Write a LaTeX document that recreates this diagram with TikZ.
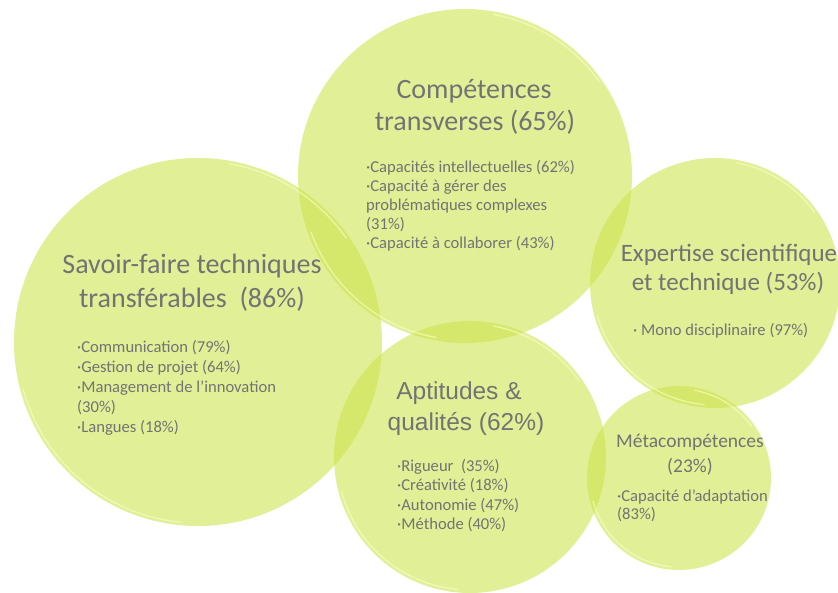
\documentclass[tikz,border=0pt]{standalone}
\usepackage{fontspec}
\usetikzlibrary{calc}
\setmainfont{Carlito}
\newfontfamily\arialfont{Liberation Sans}
\definecolor{bubblecol}{RGB}{205,228,80}
\definecolor{rimcol}{RGB}{252,255,200}
\definecolor{txtgray}{RGB}{115,115,115}
\begin{document}
\begin{tikzpicture}[x=1pt,y=1pt,
  bubble/.style={circle, inner sep=0pt, fill=bubblecol, fill opacity=0.6, draw=none},
  rim/.style={draw=rimcol, line width=1.3pt, opacity=0.6},
  ttl/.style={anchor=base, inner sep=0pt, text=txtgray, font=\fontsize{28}{32}\selectfont},
  ttlm/.style={anchor=base, inner sep=0pt, text=txtgray, font=\fontsize{25}{29}\selectfont},
  ttla/.style={anchor=base, inner sep=0pt, text=txtgray, font=\arialfont\fontsize{24.5}{30}\selectfont},
  ttls/.style={anchor=base, inner sep=0pt, text=txtgray, font=\fontsize{19.5}{24}\selectfont},
  itm/.style={anchor=base west, inner sep=0pt, text=txtgray, font=\fontsize{16.6}{19}\selectfont}]
\useasboundingbox (0,0) rectangle (838,-592);
% bubbles
\node[bubble, minimum size=368pt] (sav) at (198,-342) {};
\node[bubble, minimum size=334pt] (comp) at (465,-176) {};
\node[bubble, minimum size=250pt] (expt) at (715,-283) {};
\node[bubble, minimum size=272pt] (apt) at (470,-457) {};
\node[bubble, minimum size=184pt] (meta) at (679,-478) {};
% glossy rims
\draw[rim] ($(sav.center)+(195:181)$) arc[start angle=195, end angle=265, radius=181];
\draw[rim] ($(sav.center)+(35:181)$) arc[start angle=35, end angle=80, radius=181];
\draw[rim] ($(comp.center)+(200:164)$) arc[start angle=200, end angle=260, radius=164];
\draw[rim] ($(comp.center)+(35:164)$) arc[start angle=35, end angle=80, radius=164];
\draw[rim] ($(expt.center)+(195:122)$) arc[start angle=195, end angle=265, radius=122];
\draw[rim] ($(expt.center)+(35:122)$) arc[start angle=35, end angle=80, radius=122];
\draw[rim] ($(apt.center)+(195:133)$) arc[start angle=195, end angle=265, radius=133];
\draw[rim] ($(apt.center)+(35:133)$) arc[start angle=35, end angle=80, radius=133];
\draw[rim] ($(meta.center)+(195:89)$) arc[start angle=195, end angle=265, radius=89];
\draw[rim] ($(meta.center)+(35:89)$) arc[start angle=35, end angle=80, radius=89];
% Compétences transverses
\node[ttl] (compa) at (474,-98) {Compétences};
\node[ttl] (compb) at (475,-130) {transverses (65\%)};
\node[itm] (comp1) at (366,-172) {·Capacités intellectuelles (62\%)};
\node[itm] (comp2) at (366,-191) {·Capacité à gérer des};
\node[itm] (comp3) at (366,-210) {problématiques complexes};
\node[itm] (comp4) at (366,-229) {(31\%)};
\node[itm] (comp5) at (366,-248) {·Capacité à collaborer (43\%)};
% Savoir-faire
\node[ttl] (sava) at (192,-273) {Savoir-faire techniques};
\node[ttl] (savb) at (192,-307) {transférables\ \ (86\%)};
\node[itm] (sav1) at (77,-352) {·Communication (79\%)};
\node[itm] (sav2) at (77,-372) {·Gestion de projet (64\%)};
\node[itm] (sav3) at (77,-392) {·Management de l’innovation};
\node[itm] (sav4) at (77,-412) {(30\%)};
\node[itm] (sav5) at (77,-432) {·Langues (18\%)};
% Expertise
\node[ttlm] (expa) at (729,-261) {Expertise scientifique};
\node[ttlm] (expb) at (728,-290) {et technique (53\%)};
\node[itm] (exp1) at (633,-335) {· Mono disciplinaire (97\%)};
% Aptitudes
\node[ttla] (apta) at (459,-399) {Aptitudes \&};
\node[ttla] (aptb) at (466,-430) {qualités (62\%)};
\node[itm] (apt1) at (397,-471) {·Rigueur\ \ (35\%)};
\node[itm] (apt2) at (397,-490.5) {·Créativité (18\%)};
\node[itm] (apt3) at (397,-510) {·Autonomie (47\%)};
\node[itm] (apt4) at (397,-529.5) {·Méthode (40\%)};
% Métacompétences
\node[ttls] (metaa) at (690,-447) {Métacompétences};
\node[ttls] (metab) at (690,-472) {(23\%)};
\node[itm] (meta1) at (617,-501) {·Capacité d’adaptation};
\node[itm] (meta2) at (617,-519) {(83\%)};
\end{tikzpicture}
\end{document}
